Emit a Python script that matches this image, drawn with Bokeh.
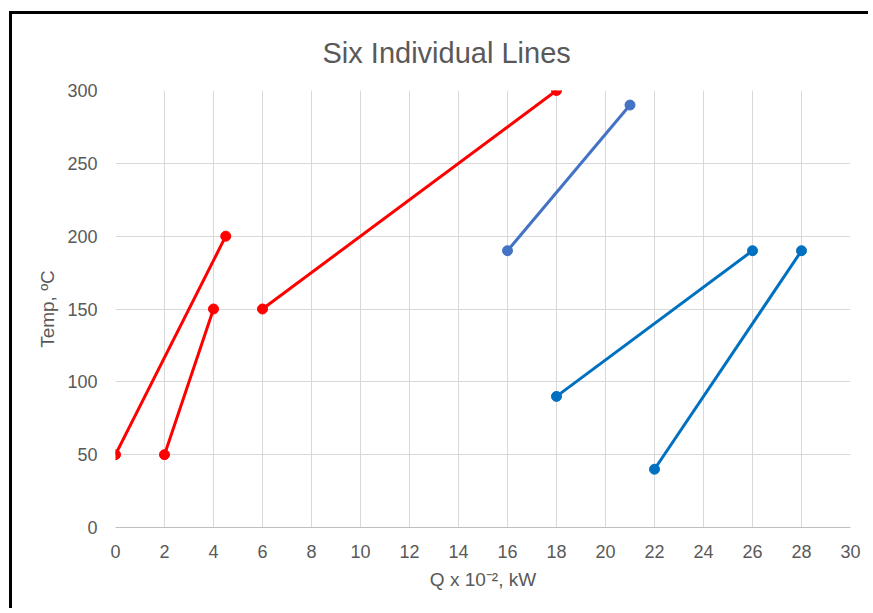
from bokeh.plotting import figure
from bokeh.models import Range1d, FixedTicker, Title
from bokeh.embed import file_html
from bokeh.resources import INLINE

# Data: six individual line segments (Q x 10^-2 kW, Temp °C)
seg_x = [[0, 4.5], [2, 4], [6, 18], [16, 21], [18, 26], [22, 28]]
seg_y = [[50, 200], [50, 150], [150, 300], [190, 290], [90, 190], [40, 190]]
seg_colors = ["#FF0000", "#FF0000", "#FF0000", "#4472C4", "#0070C0", "#0070C0"]

x_ticks = list(range(0, 31, 2))
y_ticks = list(range(0, 301, 50))

TITLE = "Six Individual Lines"
FONT = "Liberation Sans"
GRAY = "#595959"

p = figure(width=859, height=597, output_backend="svg", toolbar_location=None,
           x_range=Range1d(0, 30), y_range=Range1d(0, 300),
           min_border_left=103, min_border_right=21, min_border_top=76, min_border_bottom=84)
p.title = None
p.add_layout(Title(text=TITLE, align="left", vertical_align="top",
                   text_font=FONT, text_font_size="29px", text_font_style="normal",
                   text_color=GRAY, standoff=40, offset=207), "above")

for xs, ys, c in zip(seg_x, seg_y, seg_colors):
    p.line(xs, ys, line_color=c, line_width=3)
    p.scatter(xs, ys, size=10, fill_color=c, line_color=c)

p.xaxis.ticker = FixedTicker(ticks=x_ticks)
p.yaxis.ticker = FixedTicker(ticks=y_ticks)
for ax in (p.xaxis, p.yaxis):
    ax.major_tick_line_color = None
    ax.minor_tick_line_color = None
    ax.major_label_text_font = FONT
    ax.major_label_text_font_size = "18px"
    ax.major_label_text_color = GRAY
    ax.axis_label_text_font = FONT
    ax.axis_label_text_font_size = "19px"
    ax.axis_label_text_font_style = "normal"
    ax.axis_label_text_color = GRAY
p.xaxis.major_label_standoff = 11
p.yaxis.major_label_standoff = 12
p.xaxis.axis_line_color = "#BFBFBF"
p.yaxis.axis_line_color = None
p.xaxis.axis_label = "Q x 10⁻², kW"
p.yaxis.axis_label = "Temp, ºC"
p.xaxis.axis_label_standoff = 8
p.yaxis.axis_label_standoff = 6

p.xgrid.grid_line_color = "#D9D9D9"
p.ygrid.grid_line_color = "#D9D9D9"
p.outline_line_color = None
p.background_fill_color = "white"
p.border_fill_color = "white"
p.styles = {"border-left": "3px solid black", "border-top": "3px solid black",
            "margin-left": "9px", "margin-top": "11px"}

open("out.html", "w").write(file_html(p, INLINE))
